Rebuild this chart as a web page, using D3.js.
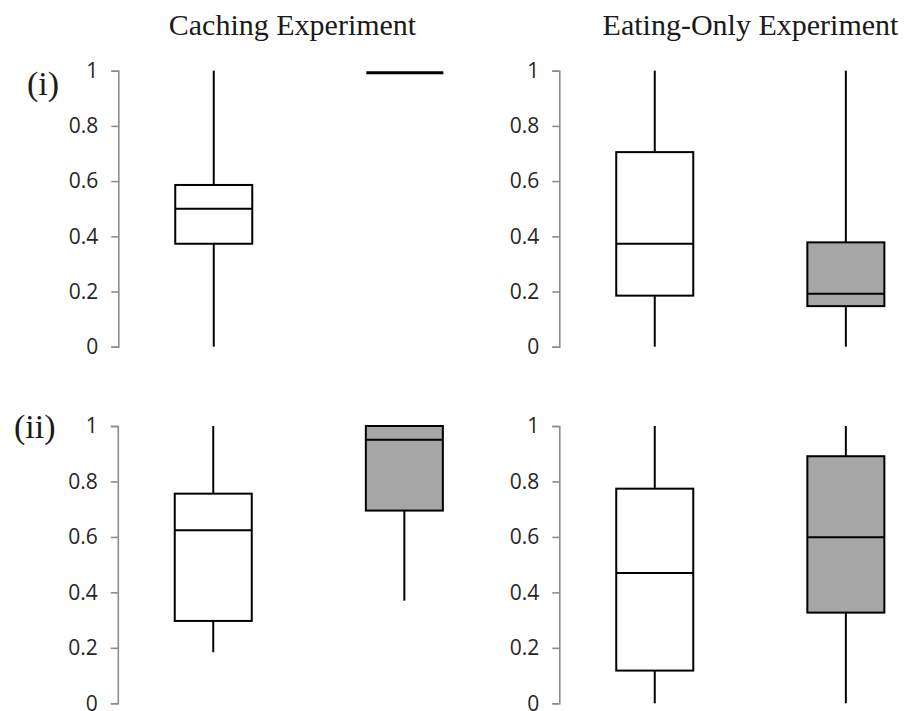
<!DOCTYPE html>
<html><head><meta charset="utf-8">
<script src="https://cdn.jsdelivr.net/npm/d3@7"></script>
<style>body{margin:0;background:#fff}</style>
</head><body>
<svg id="c" width="917" height="711"></svg>
<script>
// five-number summaries: [min, q1, median, q3, max]
const groups = ["Group A", "Group B"];
const columnTitles = ["Caching Experiment", "Eating-Only Experiment"];
const rowLabels = ["(i)", "(ii)"];
const yTicks = [0, 0.2, 0.4, 0.6, 0.8, 1];
const cachingI = [[0, 0.373, 0.5, 0.586, 1], [0.993, 0.993, 0.993, 0.993, 0.993]];
const eatingI = [[0, 0.185, 0.373, 0.705, 1], [0, 0.147, 0.192, 0.378, 1]];
const cachingII = [[0.184, 0.297, 0.624, 0.756, 1], [0.37, 0.695, 0.95, 1, 1]];
const eatingII = [[0, 0.118, 0.47, 0.774, 1], [0, 0.327, 0.599, 0.891, 1]];

const panels = [
  {data: cachingI, ax: 118.3, top: 70.7, bottom: 346.7},
  {data: eatingI, ax: 559.3, top: 70.7, bottom: 346.7},
  {data: cachingII, ax: 117.8, top: 426, bottom: 703.3},
  {data: eatingII, ax: 559.3, top: 426, bottom: 703.3}
];
const fills = ["#ffffff", "#a6a6a6"];

const svg = d3.select("#c");

panels.forEach(p => {
  const y = d3.scaleLinear().domain([0, 1]).range([p.bottom, p.top]);
  const x = d3.scaleBand().domain(groups).range([p.ax, p.ax + 382])
    .paddingInner(0.597).paddingOuter(0.298);
  const g = svg.append("g");
  const axis = d3.axisLeft(y).tickValues(yTicks).tickFormat(d3.format("~g"))
    .tickSize(7).tickSizeOuter(7).tickPadding(13);
  const ag = g.append("g").attr("transform", `translate(${p.ax},0)`).call(axis);
  ag.select(".domain").attr("stroke", "#8c8c8c").attr("stroke-width", 1.6);
  ag.selectAll(".tick line").attr("stroke", "#8c8c8c").attr("stroke-width", 1.6);
  ag.selectAll(".tick text").attr("fill", "#262626")
    .style("font-family", "'Open Sans', sans-serif").style("font-size", "21px");

  p.data.forEach((s, i) => {
    const cx = x(groups[i]) + x.bandwidth() / 2;
    const [mn, q1, md, q3, mx] = s;
    const bg = g.append("g");
    if (q1 > mn) bg.append("line").attr("x1", cx).attr("x2", cx).attr("y1", y(mn)).attr("y2", y(q1));
    if (mx > q3) bg.append("line").attr("x1", cx).attr("x2", cx).attr("y1", y(q3)).attr("y2", y(mx));
    bg.append("rect").attr("x", x(groups[i])).attr("width", x.bandwidth())
      .attr("y", y(q3)).attr("height", Math.max(0, y(q1) - y(q3)))
      .attr("fill", fills[i]);
    bg.append("line").attr("x1", x(groups[i])).attr("x2", x(groups[i]) + x.bandwidth())
      .attr("y1", y(md)).attr("y2", y(md))
      .attr("stroke-width", q3 === q1 ? 3 : 2);
    bg.selectAll("line").attr("stroke", "#000").attr("stroke-width", function(){return this.getAttribute("stroke-width") || 2;});
    bg.select("rect").attr("stroke", q3 === q1 ? "none" : "#000").attr("stroke-width", 2);
  });
});

const serif = "'Liberation Serif', 'Times New Roman', serif";
svg.selectAll(".ctitle").data(columnTitles).join("text")
  .attr("x", (d, i) => [292.5, 750.5][i]).attr("y", 35)
  .attr("text-anchor", "middle").attr("fill", "#1a1a1a")
  .style("font-family", serif).style("font-size", "30px").text(d => d);
svg.selectAll(".rlabel").data(rowLabels).join("text")
  .attr("x", (d, i) => [27, 14][i]).attr("y", (d, i) => [95, 438][i])
  .attr("fill", "#1a1a1a")
  .style("font-family", serif).style("font-size", "34px").text(d => d);
</script>
</body></html>
